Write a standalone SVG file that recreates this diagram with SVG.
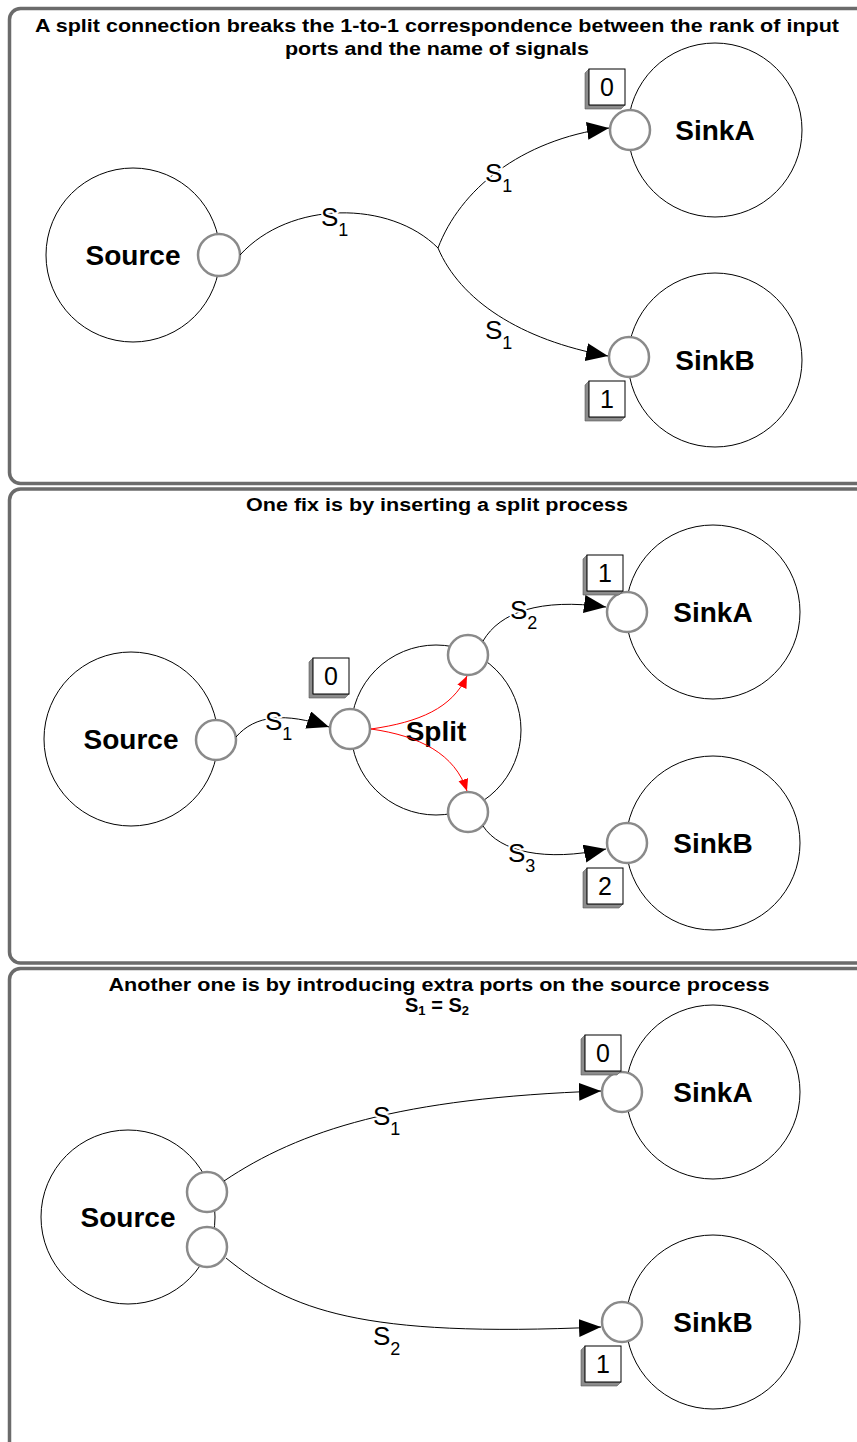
<svg xmlns="http://www.w3.org/2000/svg" width="857" height="1442" viewBox="0 0 857 1442">
  <style>
    .panel { fill: #ffffff; stroke: #6b6b6b; stroke-width: 3.5; }
    .title { font-family: "Liberation Sans", Arial, sans-serif; font-weight: bold; font-size: 18px; fill: #000; text-anchor: middle; }
    .eq { font-size: 20px; }
    .eq-sub { font-size: 13px; }
    .proc { fill: #ffffff; stroke: #000; stroke-width: 1; }
    .port { fill: #ffffff; stroke: #8a8a8a; stroke-width: 2.5; }
    .name { font-family: "Liberation Sans", Arial, sans-serif; font-weight: bold; font-size: 28px; fill: #000; text-anchor: middle; dominant-baseline: central; }
    .edge { fill: none; stroke: #000; stroke-width: 1; }
    .red { fill: none; stroke: #ff0000; stroke-width: 1; }
    .sig { font-family: "Liberation Sans", Arial, sans-serif; font-size: 26px; fill: #000; stroke: #fff; stroke-width: 4; paint-order: stroke; stroke-linejoin: round; }
    .sub { font-size: 18px; }
    .rank-shadow { fill: #8c8c8c; stroke: #555; stroke-width: 0.6; }
    .rank-face { fill: #ffffff; stroke: #000; stroke-width: 1; }
    .rank-text { font-family: "Liberation Sans", Arial, sans-serif; font-size: 25px; fill: #000; text-anchor: middle; }
  </style>
  <defs>
    <marker id="arrow" markerUnits="userSpaceOnUse" markerWidth="24" markerHeight="20" refX="22" refY="9" orient="auto">
      <path d="M0,0 L22,9 L0,18 Z" fill="#000"/>
    </marker>
    <marker id="arrow-red" markerUnits="userSpaceOnUse" markerWidth="14" markerHeight="12" refX="12" refY="5" orient="auto">
      <path d="M0,0 L12,5 L0,10 Z" fill="#ff0000"/>
    </marker>
    <!-- rank badge: bevelled box drawn at origin (front face 36x36) -->
    <g id="rank-box">
      <path class="rank-shadow" d="M0,0 L-4,4 L-4,40 L32,40 L36,36 L0,36 Z"/>
      <rect class="rank-face" x="0" y="0" width="36" height="36"/>
    </g>
  </defs>

  <!-- panel frames -->
  <rect class="panel" x="9.5" y="8.5" width="880" height="475" rx="11"/>
  <rect class="panel" x="9.5" y="489" width="880" height="474" rx="11"/>
  <rect class="panel" x="9.5" y="968.5" width="880" height="490" rx="11"/>

  <!-- panel titles -->
  <text class="title" x="437" y="32" textLength="804" lengthAdjust="spacingAndGlyphs">A split connection breaks the 1-to-1 correspondence between the rank of input</text>
  <text class="title" x="437" y="55" textLength="304" lengthAdjust="spacingAndGlyphs">ports and the name of signals</text>
  <text class="title" x="437" y="511" textLength="382" lengthAdjust="spacingAndGlyphs">One fix is by inserting a split process</text>
  <text class="title" x="439" y="991" textLength="661" lengthAdjust="spacingAndGlyphs">Another one is by introducing extra ports on the source process</text>
  <text class="title eq" x="437" y="1012">S<tspan class="eq-sub" dy="3">1</tspan><tspan dy="-3"> = S</tspan><tspan class="eq-sub" dy="3">2</tspan></text>

  <!-- ===== first panel ===== -->
  <g id="p1-source">
    <circle class="proc" cx="133" cy="255" r="87"/>
    <text class="name" x="133" y="255">Source</text>
    <circle class="port" cx="219" cy="255" r="21"/>
  </g>
  <g id="p1-sinkA">
    <circle class="proc" cx="715" cy="130" r="87"/>
    <text class="name" x="715" y="130">SinkA</text>
    <circle class="port" cx="630" cy="130" r="20"/>
    <use href="#rank-box" x="589" y="69"/>
    <text class="rank-text" x="607" y="96">0</text>
  </g>
  <g id="p1-sinkB">
    <circle class="proc" cx="715" cy="360" r="87"/>
    <text class="name" x="715" y="360">SinkB</text>
    <circle class="port" cx="629" cy="357" r="20"/>
    <use href="#rank-box" x="589" y="381"/>
    <text class="rank-text" x="607" y="408">1</text>
  </g>

  <!-- ===== second panel ===== -->
  <g id="p2-source">
    <circle class="proc" cx="131" cy="739" r="87"/>
    <text class="name" x="131" y="739">Source</text>
    <circle class="port" cx="216" cy="740" r="20"/>
  </g>
  <g id="p2-split">
    <circle class="proc" cx="436" cy="730" r="85"/>
    <text class="name" x="436" y="731">Split</text>
    <circle class="port" cx="350" cy="729" r="20"/>
    <circle class="port" cx="468" cy="655" r="20"/>
    <circle class="port" cx="468" cy="812" r="20"/>
    <use href="#rank-box" x="313" y="658"/>
    <text class="rank-text" x="331" y="685">0</text>
  </g>
  <g id="p2-sinkA">
    <circle class="proc" cx="713" cy="612" r="87"/>
    <text class="name" x="713" y="612">SinkA</text>
    <circle class="port" cx="627" cy="612" r="20"/>
    <use href="#rank-box" x="587" y="555"/>
    <text class="rank-text" x="605" y="582">1</text>
  </g>
  <g id="p2-sinkB">
    <circle class="proc" cx="713" cy="843" r="87"/>
    <text class="name" x="713" y="843">SinkB</text>
    <circle class="port" cx="627" cy="843" r="20"/>
    <use href="#rank-box" x="587" y="868"/>
    <text class="rank-text" x="605" y="895">2</text>
  </g>

  <!-- ===== third panel ===== -->
  <g id="p3-source">
    <circle class="proc" cx="128" cy="1217" r="87"/>
    <text class="name" x="128" y="1217">Source</text>
    <circle class="port" cx="207" cy="1192" r="20"/>
    <circle class="port" cx="207" cy="1247" r="20"/>
  </g>
  <g id="p3-sinkA">
    <circle class="proc" cx="713" cy="1092" r="87"/>
    <text class="name" x="713" y="1092">SinkA</text>
    <circle class="port" cx="622" cy="1092" r="20"/>
    <use href="#rank-box" x="585" y="1035"/>
    <text class="rank-text" x="603" y="1062">0</text>
  </g>
  <g id="p3-sinkB">
    <circle class="proc" cx="713" cy="1322" r="87"/>
    <text class="name" x="713" y="1322">SinkB</text>
    <circle class="port" cx="622" cy="1322" r="20"/>
    <use href="#rank-box" x="585" y="1346"/>
    <text class="rank-text" x="603" y="1373">1</text>
  </g>

  <!-- connectors -->
  <g id="connectors">
    <!-- first panel: one signal split in two -->
    <path class="edge" d="M240,255 C290,200 390,200 438,248"/>
    <path class="edge" d="M438,248 C460,190 520,140 609,128" marker-end="url(#arrow)"/>
    <path class="edge" d="M438,248 C460,300 520,340 608,356" marker-end="url(#arrow)"/>
    <!-- second panel -->
    <path class="edge" d="M236,737 C255,715 285,712 329,727" marker-end="url(#arrow)"/>
    <path class="edge" d="M483,641 C500,612 540,598 606,607" marker-end="url(#arrow)"/>
    <path class="edge" d="M483,826 C500,852 545,862 606,849" marker-end="url(#arrow)"/>
    <path class="red" d="M371,729 C420,722 452,708 467,676" marker-end="url(#arrow-red)"/>
    <path class="red" d="M371,729 C420,736 455,754 467,791" marker-end="url(#arrow-red)"/>
    <!-- third panel -->
    <path class="edge" d="M224,1181 C300,1130 400,1098 601,1091" marker-end="url(#arrow)"/>
    <path class="edge" d="M226,1258 C290,1310 360,1338 601,1327" marker-end="url(#arrow)"/>
  </g>

  <!-- signal labels -->
  <g id="signal-labels">
    <text class="sig" x="321" y="226">S<tspan class="sub" dy="10">1</tspan></text>
    <text class="sig" x="485" y="182">S<tspan class="sub" dy="10">1</tspan></text>
    <text class="sig" x="485" y="339">S<tspan class="sub" dy="10">1</tspan></text>
    <text class="sig" x="265" y="730">S<tspan class="sub" dy="10">1</tspan></text>
    <text class="sig" x="510" y="619">S<tspan class="sub" dy="10">2</tspan></text>
    <text class="sig" x="508" y="862">S<tspan class="sub" dy="10">3</tspan></text>
    <text class="sig" x="373" y="1125">S<tspan class="sub" dy="10">1</tspan></text>
    <text class="sig" x="373" y="1345">S<tspan class="sub" dy="10">2</tspan></text>
  </g>
</svg>
